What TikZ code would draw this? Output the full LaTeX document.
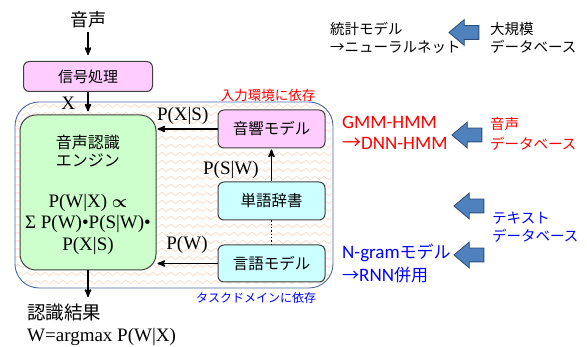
\documentclass[tikz,border=0pt]{standalone}
\usepackage{amsmath}
\usepackage{fontspec}
\setmainfont{Liberation Serif}
\newfontfamily\jp{Noto Sans CJK JP}
\newfontfamily\lat{Carlito}
\usetikzlibrary{arrows, positioning, shapes.arrows, decorations.pathmorphing}

\definecolor{pinkbox}{HTML}{FFCCFF}
\definecolor{greenbox}{HTML}{CCFFCC}
\definecolor{cyanbox}{HTML}{CCFFFF}
\definecolor{blockblue}{HTML}{4F81BD}
\definecolor{blockedge}{HTML}{2E4D7A}
\definecolor{frameblue}{HTML}{4A6A9C}
\definecolor{wavepeach}{HTML}{F9D9C2}

\begin{document}
\begin{tikzpicture}[x=1pt,y=-1pt,>=stealth',shorten >=1pt,
  box/.style={draw=black!75, line width=1pt, rounded corners=6pt, inner sep=0pt,
    minimum width=107pt, minimum height=38pt, font=\jp\fontsize{15.5}{18}\selectfont},
  txt/.style={inner sep=0pt},
  lbl/.style={inner sep=0pt, font=\fontsize{19}{21}\selectfont},
  link/.style={line width=1.6pt},
  block/.style={single arrow, draw=blockedge, fill=blockblue, line width=0.8pt,
    inner sep=6.5pt, minimum height=30pt, single arrow head extend=6pt,
    single arrow tip angle=80},
  wave/.style={draw=wavepeach, line width=0.7pt, decorate,
    decoration={snake, amplitude=1.6pt, segment length=9pt}}]
\useasboundingbox (0,0) rectangle (587,347);

% wavy background of the recognizer area
\begin{scope}
  \clip[rounded corners=24pt] (15,102) rectangle (333,288);
  \foreach \y in {106,114,...,290}
    \draw[wave] (15,\y) -- (333,\y);
\end{scope}
\node[draw=frameblue, line width=0.9pt, rounded corners=24pt, minimum width=318pt,
  minimum height=186pt] (env) at (174,195) {};

% define the blocks
\node[txt, font=\jp\fontsize{18}{20}\selectfont] (voice) at (88,20) {音声};
\node[box, fill=pinkbox, minimum width=129pt, minimum height=30pt, font=\jp\fontsize{15}{18}\selectfont]
  (sig) at (88,76.5) {信号処理};
\node[box, fill=greenbox, rounded corners=16pt, minimum width=136pt, minimum height=155pt]
  (engine) at (88,192.5) {};
\node[txt, font=\jp\fontsize{16}{18.5}\selectfont, align=center] (engtitle) at (88,151) {音声認識\\エンジン};
\node[txt, font=\fontsize{19}{21.5}\selectfont, align=center] (engform) at (88,224)
  {P(W|X) $\boldsymbol{\propto}$\\Σ P(W)•P(S|W)•\\P(X|S)};
\node[box, fill=pinkbox] (aco) at (271.5,129) {音響モデル};
\node[box, fill=cyanbox] (dict) at (271.5,201) {単語辞書};
\node[box, fill=cyanbox, minimum height=37pt] (lm) at (271.5,263.5) {言語モデル};
\coordinate (out) at (88,298);

% notes on the area
\node[txt, text=red, font=\jp\fontsize{13.5}{16}\selectfont] (envin) at (268,95) {入力環境に依存};
\node[txt, text=blue, font=\jp\fontsize{12}{14}\selectfont] (envtask) at (256,297.5) {タスクドメインに依存};

% the result
\node[txt, anchor=west, font=\jp\fontsize{18.5}{20}\selectfont] (res) at (27,313) {認識結果};
\node[txt, anchor=west, font=\fontsize{19}{21}\selectfont] (argmax) at (27,337) {W=argmax P(W|X)};

% define the links
\path[->, link] (voice) edge [shorten <=3pt, shorten >=6pt] (sig)
  (sig) edge [shorten >=3pt] node[lbl, left=12pt] {X} (engine)
  (aco.west) edge node[lbl, above=4pt, pos=0.57] {P(X|S)} (aco.west -| engine.east)
  (dict) edge node[lbl, left=12pt, pos=0.35] {P(S|W)} (aco)
  (lm.west) edge node[lbl, above=9pt, pos=0.5] {P(W)} (lm.west -| engine.east)
  (engine) edge (out);
\path (dict) edge [line width=1.3pt, dotted, shorten >=0pt] (lm);

% models and data on the right
\node[txt, anchor=west, align=left, font=\jp\fontsize{14.5}{18}\selectfont] (stat) at (330,38)
  {統計モデル\\→ニューラルネット};
\node[block, shape border rotate=180] (bigarrow) at (468,32.5) {};
\node[txt, anchor=west, align=left, font=\jp\fontsize{14.5}{18}\selectfont] (bigdb) at (490,38)
  {大規模\\データベース};

\node[txt, anchor=west, align=left, text=red, font=\lat\fontsize{19}{21}\selectfont] (gmm) at (342,132.5)
  {GMM-HMM\\{\jp →}DNN-HMM};
\node[block, shape border rotate=180] (voicearrow) at (471,135) {};
\node[txt, anchor=west, align=left, text=red, font=\jp\fontsize{14.5}{20}\selectfont] (voicedb) at (490,133.5)
  {音声\\データベース};

\node[block, shape border rotate=160] (textup) at (473,206) {};
\node[block, shape border rotate=200] (textdown) at (473,255) {};
\node[txt, anchor=west, align=left, text=blue, font=\jp\fontsize{14.5}{18}\selectfont] (textdb) at (492,227.5)
  {テキスト\\データベース};
\node[txt, anchor=west, align=left, text=blue, font=\lat\fontsize{19}{23}\selectfont] (ngram) at (342,263.5)
  {N-gram{\jp\fontsize{17}{23}\selectfont モデル}\\{\jp\fontsize{17}{23}\selectfont →}RNN{\jp\fontsize{17}{23}\selectfont 併用}};
\end{tikzpicture}
\end{document}
